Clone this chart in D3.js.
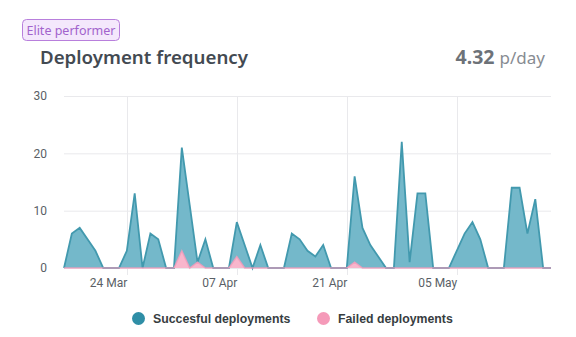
<!DOCTYPE html>
<html>
<head>
<meta charset="utf-8">
<script src="https://cdn.jsdelivr.net/npm/d3@7"></script>
<style>
  html, body { margin: 0; padding: 0; background: #ffffff; }
  svg { display: block; }
</style>
</head>
<body>
<svg id="chart" width="576" height="337"></svg>
<script>
// ---- data ----
const startDate = "2021-03-16";
const successful = [0,6,7,5,3,0,0,0,3,13,0,6,5,0,0,21,11,1,5,0,0,0,8,4,0,4,0,0,0,6,5,3,2,4,0,0,0,16,7,4,2,0,0,22,1,13,13,0,0,0,3,6,8,5,0,0,0,14,14,6,12,0,0];
const failed     = [0,0,0,0,0,0,0,0,0,0,0,0,0,0,0,3,0,1,0,0,0,0,2,0,0,0,0,0,0,0,0,0,0,0,0,0,0,1,0,0,0,0,0,0,0,0,0,0,0,0,0,0,0,0,0,0,0,0,0,0,0,0,0];
const yTicks = [0, 10, 20, 30];
const xTickDates = ["2021-03-24", "2021-04-07", "2021-04-21", "2021-05-05"];
const seriesNames = ["Succesful deployments", "Failed deployments"];
const badgeText = "Elite performer";
const titleText = "Deployment frequency";
const rateValue = "4.32";
const rateUnit = "p/day";

// ---- build ----
(function () {
const parse = d3.utcParse("%Y-%m-%d");
const start = parse(startDate);
const dates = successful.map((_, i) => d3.utcDay.offset(start, i));
const rows = dates.map((d, i) => ({date: d, ok: successful[i], fail: failed[i]}));

const svg = d3.select("#chart");
const pLeft = 64, pRight = 551, pTop = 96, pBottom = 268;

const x = d3.scaleUtc().domain(d3.extent(dates)).range([pLeft, pRight]);
const y = d3.scaleLinear().domain([0, 30]).range([pBottom, pTop]);

const blue = "#4299ae", blueFill = "#74b8ca";
const pink = "#f59bba", pinkFill = "#f8b6cc";

// badge
const badge = svg.append("g");
badge.append("rect").attr("x", 22.5).attr("y", 19.5).attr("width", 97).attr("height", 21)
  .attr("rx", 4).attr("fill", "#f4e8fc").attr("stroke", "#b87fdc").attr("stroke-width", 1);
badge.append("text").attr("x", 71).attr("y", 34.5).attr("text-anchor", "middle")
  .attr("font-family", "'Noto Sans', sans-serif").attr("font-size", 12.5)
  .attr("fill", "#a263cc").text(badgeText);

// title
svg.append("text").attr("x", 40).attr("y", 64)
  .attr("font-family", "'Noto Sans', sans-serif").attr("font-size", 18.7).attr("font-weight", 600)
  .attr("fill", "#434a52").text(titleText);

// rate
const rate = svg.append("text").attr("x", 545).attr("y", 64).attr("text-anchor", "end")
  .attr("font-family", "'Noto Sans', sans-serif");
rate.append("tspan").attr("font-size", 19.5).attr("font-weight", 700).attr("fill", "#6d7278").text(rateValue + " ");
rate.append("tspan").attr("font-size", 17).attr("font-weight", 400).attr("fill", "#878c92").text(rateUnit);

// gridlines
const grid = svg.append("g");
grid.selectAll("line.h").data(yTicks).join("line")
  .attr("x1", pLeft).attr("x2", pRight)
  .attr("y1", d => y(d) + 0.5).attr("y2", d => y(d) + 0.5)
  .attr("stroke", "#e9e9ec").attr("stroke-width", 1);
const xTicks = xTickDates.map(parse);
grid.selectAll("line.v").data(xTicks).join("line")
  .attr("x1", d => Math.round(x(d)) + 0.5).attr("x2", d => Math.round(x(d)) + 0.5)
  .attr("y1", pTop).attr("y2", pBottom + 7)
  .attr("stroke", "#e9e9ec").attr("stroke-width", 1);

// y axis labels
const yAxis = d3.axisLeft(y).tickValues(yTicks).tickSize(0).tickPadding(0);
const yg = svg.append("g").attr("transform", `translate(${47},0)`).call(yAxis);
yg.select(".domain").remove();
yg.selectAll("text").attr("font-family", "Roboto, sans-serif").attr("font-size", 12).attr("fill", "#5a5f66");

// x axis labels (right-aligned at tick)
const xAxis = d3.axisBottom(x).tickValues(xTicks).tickFormat(d3.utcFormat("%d %b")).tickSize(0).tickPadding(0);
const xg = svg.append("g").attr("transform", `translate(0,${pBottom})`).call(xAxis);
xg.select(".domain").remove();
xg.selectAll("text").attr("font-family", "Roboto, sans-serif").attr("font-size", 12).attr("fill", "#5a5f66")
  .attr("text-anchor", "end").attr("dy", 0).attr("y", 19);

// areas
const areaOk = d3.area().x(d => x(d.date)).y0(y(0)).y1(d => y(d.ok));
const lineOk = d3.line().x(d => x(d.date)).y(d => y(d.ok));
const areaFail = d3.area().x(d => x(d.date)).y0(y(0)).y1(d => y(d.fail));
const lineFail = d3.line().x(d => x(d.date)).y(d => y(d.fail));

svg.append("path").datum(rows).attr("d", areaOk).attr("fill", blueFill);
svg.append("path").datum(rows).attr("d", lineOk).attr("fill", "none").attr("stroke", blue)
  .attr("stroke-width", 1.8).attr("stroke-linejoin", "miter");
svg.append("path").datum(rows).attr("d", areaFail).attr("fill", pinkFill);
svg.append("path").datum(rows).attr("d", lineFail).attr("fill", "none").attr("stroke", pink)
  .attr("stroke-width", 1.5).attr("opacity", 0.8);

// legend
const legend = svg.append("g");
const legendItems = [
  {name: seriesNames[0], color: "#2f8ea6", cx: 138.5, tx: 153},
  {name: seriesNames[1], color: "#f59ab9", cx: 323.5, tx: 338}
];
legendItems.forEach(it => {
  legend.append("circle").attr("cx", it.cx).attr("cy", 318.5).attr("r", 6.5).attr("fill", it.color);
  legend.append("text").attr("x", it.tx).attr("y", 323)
    .attr("font-family", "'Liberation Sans', Arial, sans-serif").attr("font-size", 12.3).attr("font-weight", 700)
    .attr("fill", "#373d3f").text(it.name);
});
})();
</script>
</body>
</html>
